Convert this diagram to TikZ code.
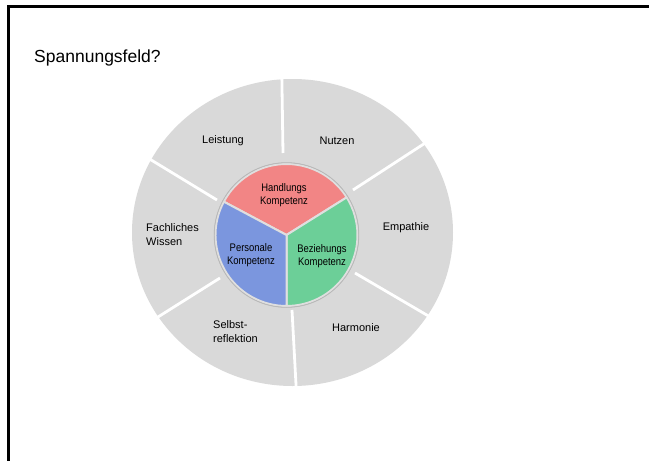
\documentclass[tikz,border=0pt]{standalone}
\usepackage{fontspec}
\setmainfont{Liberation Sans}
\newfontfamily\condfont[FakeStretch=0.86]{Liberation Sans}
\definecolor{ringgray}{HTML}{D9D9D9}
\definecolor{redfill}{HTML}{F28585}
\definecolor{bluefill}{HTML}{7B96DE}
\definecolor{greenfill}{HTML}{6CCF98}
\begin{document}
\begin{tikzpicture}[x=1pt,y=1pt,
  ringlabel/.style={font=\fontsize{11}{14}\selectfont, inner sep=0pt, text=black},
  corelabel/.style={font=\condfont\fontsize{11}{13}\selectfont, inner sep=0pt, align=center, text=black},
  gapline/.style={white, line width=2.8pt},
  sector/.style={draw=gray!25, line width=2pt, line join=round}]
\useasboundingbox (0,0) rectangle (649,-461);
\fill[white] (0,0) rectangle (649,-461);
\draw[line width=2.2pt] (8.5,-461) -- (8.5,-6.5) -- (649,-6.5);
\node[anchor=base west, font=\fontsize{17.5}{20}\selectfont, inner sep=0pt] (title) at (34,-62) {Spannungsfeld?};
% outer ring
\fill[ringgray] (292.5,-232.5) ellipse [x radius=160.5, y radius=153.5];
\draw[gapline] (281.8,-74) -- (283,-153);
\draw[gapline] (353,-190) -- (426,-142.5);
\draw[gapline] (355,-273) -- (431,-317.5);
\draw[gapline] (292,-310) -- (296.3,-390);
\draw[gapline] (220,-278) -- (154,-319.5);
\draw[gapline] (217,-200) -- (143,-155);
% core
\coordinate (C) at (286.5,-235);
\fill[gray!60] (C) circle[radius=72.5];
\draw[sector, fill=redfill] (C) -- ([shift={(32:71)}]C) arc[start angle=32, end angle=152, radius=71] -- cycle;
\draw[sector, fill=greenfill] (C) -- ([shift={(-90:71)}]C) arc[start angle=-90, end angle=32, radius=71] -- cycle;
\draw[sector, fill=bluefill] (C) -- ([shift={(152:71)}]C) arc[start angle=152, end angle=270, radius=71] -- cycle;
\draw[gray!55, line width=0.8pt] (C) circle[radius=72.3];
% labels
\node[ringlabel] (leistung) at (223,-141) {Leistung};
\node[ringlabel] (nutzen) at (337,-141) {Nutzen};
\node[ringlabel] (empathie) at (406,-228) {Empathie};
\node[ringlabel] (harmonie) at (356,-328) {Harmonie};
\node[ringlabel, align=left, anchor=west] (wissen) at (146,-235) {Fachliches\\Wissen};
\node[ringlabel, align=left, anchor=west] (selbst) at (213,-332) {Selbst-\\reflektion};
\node[corelabel] (hk) at (284,-195) {Handlungs\\Kompetenz};
\node[corelabel] (pk) at (251,-255) {Personale\\Kompetenz};
\node[corelabel] (bk) at (322,-256) {Beziehungs\\Kompetenz};
\end{tikzpicture}
\end{document}
